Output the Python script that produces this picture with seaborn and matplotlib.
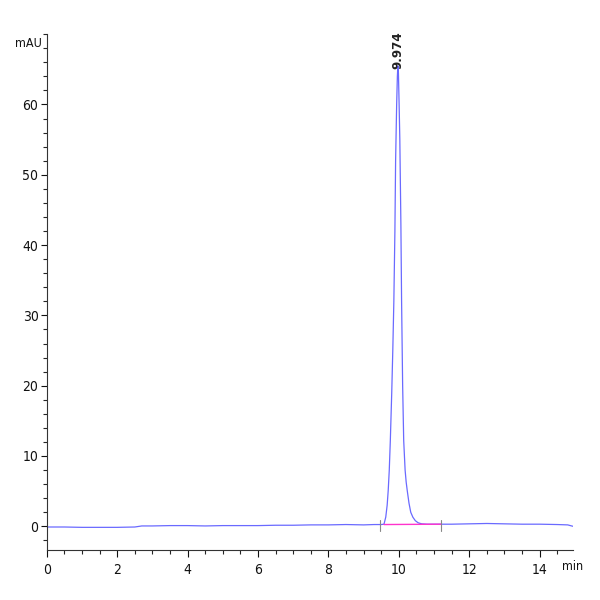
import numpy as np
import pandas as pd
import seaborn as sns
import matplotlib.pyplot as plt
from matplotlib.ticker import MultipleLocator

# Chromatogram trace (time in min, signal in mAU)
time_min = [0.0, 0.5, 1.0, 1.5, 2.0, 2.5, 2.7, 3.0, 3.5, 4.0, 4.5, 5.0, 5.5, 6.0,
            6.5, 7.0, 7.5, 8.0, 8.5, 9.0, 9.3, 9.5, 9.58, 9.63, 9.67, 9.70, 9.73,
            9.76, 9.80, 9.83, 9.86, 9.89, 9.91, 9.94, 9.96, 9.974, 9.99, 10.01,
            10.03, 10.06, 10.08, 10.11, 10.14, 10.18, 10.21, 10.24, 10.29, 10.34,
            10.40, 10.47, 10.55, 10.65, 10.8, 11.0, 11.2, 11.5, 12.0, 12.5, 13.0,
            13.5, 14.0, 14.5, 14.8, 14.95]
signal_mau = [-0.1, -0.1, -0.15, -0.15, -0.15, -0.1, 0.05, 0.05, 0.1, 0.1, 0.05,
              0.1, 0.1, 0.1, 0.15, 0.15, 0.2, 0.2, 0.25, 0.2, 0.25, 0.25, 0.3,
              1.3, 3.0, 5.1, 8.0, 12.2, 19.0, 25.0, 32.0, 42.0, 52.0, 60.0, 64.0,
              65.5, 64.5, 60.0, 55.0, 43.0, 32.0, 20.0, 12.2, 8.0, 6.3, 5.1, 3.3,
              2.0, 1.3, 0.8, 0.5, 0.35, 0.3, 0.3, 0.3, 0.3, 0.35, 0.4, 0.35, 0.3,
              0.3, 0.25, 0.2, 0.0]

peak_rt = 9.974
peak_label = "9.974"
integ_start = 9.48
integ_end = 11.21
integ_level = [0.25, 0.3]

trace = pd.DataFrame({"time": time_min, "signal": signal_mau})

sns.set_theme(style="ticks")
plt.rcParams["font.family"] = ["DejaVu Sans"]
plt.rcParams["font.stretch"] = "condensed"

fig = plt.figure(figsize=(6, 6), dpi=100)
ax = fig.add_axes([0.078, 0.083, 0.877, 0.86])

sns.lineplot(data=trace, x="time", y="signal", ax=ax, color="#6a6aff",
             linewidth=0.9, estimator=None, sort=False)

# integration baseline + start/end marks
ax.plot([integ_start + 0.1, integ_end], integ_level, color="#ff33cc", linewidth=1.0)
for t in (integ_start, integ_end):
    ax.plot([t, t], [-0.6, 0.9], color="#888888", linewidth=0.8)

ax.text(peak_rt, 65.0, peak_label, rotation=90, ha="center", va="bottom",
        fontsize=9.5, fontweight="bold", color="#222222")

ax.set_xlim(0, 14.95)
ax.set_ylim(-3.4, 70)
ax.xaxis.set_major_locator(MultipleLocator(2))
ax.xaxis.set_minor_locator(MultipleLocator(0.5))
ax.set_yticks([0, 10, 20, 30, 40, 50, 60])
ax.set_yticks(np.arange(-2, 71, 2), minor=True)

ax.tick_params(axis="both", labelsize=10, colors="#111111")
ax.tick_params(axis="x", which="major", direction="out", length=5, width=0.8, pad=4)
ax.tick_params(axis="x", which="minor", direction="out", length=3, width=0.8)
ax.tick_params(axis="y", which="major", direction="out", length=4, width=0.8, pad=2)
ax.tick_params(axis="y", which="minor", direction="out", length=3, width=0.8)

for s in ("left", "bottom"):
    ax.spines[s].set_color("#333333")
    ax.spines[s].set_linewidth(0.8)
sns.despine(ax=ax)

ax.set_xlabel("")
ax.set_ylabel("")
fig.text(0.069, 0.928, "mAU", fontsize=9, ha="right", va="center", color="#111111")
fig.text(0.937, 0.055, "min", fontsize=9, ha="left", va="center", color="#111111")

fig.savefig("out.png", dpi=100, facecolor="white")
